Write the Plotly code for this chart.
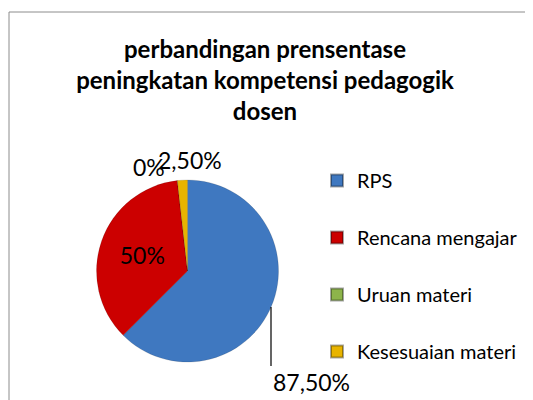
import plotly.graph_objects as go

categories = ["RPS", "Rencana mengajar", "Uruan materi", "Kesesuaian materi"]
values = [87.5, 50, 0, 2.5]
value_labels = ["87,50%", "50%", "0%", "2,50%"]
colors = ["#3F78C0", "#CC0000", "#8DB44A", "#E8B400"]
title_text = "perbandingan prensentase<br>peningkatan kompetensi pedagogik<br>dosen"

W, H = 533, 400
OFF = 8  # page body margin


def px(x):
    return (x - OFF) / W


def py(y):
    return 1 - (y - OFF) / H


fig = go.Figure()
fig.add_trace(go.Pie(
    labels=categories, values=values, text=value_labels,
    textinfo="text", textposition=["none", "inside", "none", "none"],
    insidetextorientation="horizontal",
    textfont=dict(family="Lato", size=23, color="black"),
    marker=dict(colors=colors, line=dict(color="rgba(0,0,0,0.25)", width=0.5)),
    sort=False, direction="clockwise", rotation=0,
    domain=dict(x=[px(96), px(279)], y=[py(362), py(180)]),
    showlegend=False, hoverinfo="label+value",
))

for name, col in zip(categories, colors):
    fig.add_trace(go.Scatter(
        x=[None], y=[None], mode="markers", name=name, legendgroup=name,
        marker=dict(symbol="square", size=10, color=col,
                    line=dict(color="rgba(0,0,0,0.35)", width=1)),
    ))

label_font = dict(family="Lato", size=23, color="black")
annotations = [
    dict(text=value_labels[2], x=px(149), y=py(167), xref="paper", yref="paper",
         showarrow=False, font=label_font, xanchor="center", yanchor="middle"),
    dict(text=value_labels[3], x=px(190), y=py(160), xref="paper", yref="paper",
         showarrow=False, font=label_font, xanchor="center", yanchor="middle"),
    dict(text=value_labels[0], x=px(271), y=py(307), xref="paper", yref="paper",
         showarrow=True, arrowhead=0, arrowwidth=1.2, arrowcolor="black",
         ax=0, ay=59, xanchor="left", yanchor="top", xshift=0, font=label_font),
]

fig.update_layout(
    width=W, height=H,
    margin=dict(l=0, r=0, t=0, b=0),
    paper_bgcolor="white", plot_bgcolor="white",
    title=dict(text=title_text, x=px(265), xanchor="center", y=1 - 50 / H, yanchor="top",
               font=dict(family="Lato", size=24, color="black", weight="bold")),
    xaxis=dict(visible=False), yaxis=dict(visible=False),
    legend=dict(x=px(317), y=py(161), xanchor="left", yanchor="top",
                font=dict(family="Lato", size=20, color="black"),
                tracegroupgap=28, itemsizing="constant", bgcolor="rgba(0,0,0,0)"),
    annotations=annotations,
    shapes=[dict(type="rect", xref="paper", yref="paper",
                 x0=px(9), x1=1.05, y0=-0.05, y1=py(12),
                 line=dict(color="#8c8c8c", width=1), fillcolor="rgba(0,0,0,0)",
                 layer="below")],
)

fig.write_html("out.html")
